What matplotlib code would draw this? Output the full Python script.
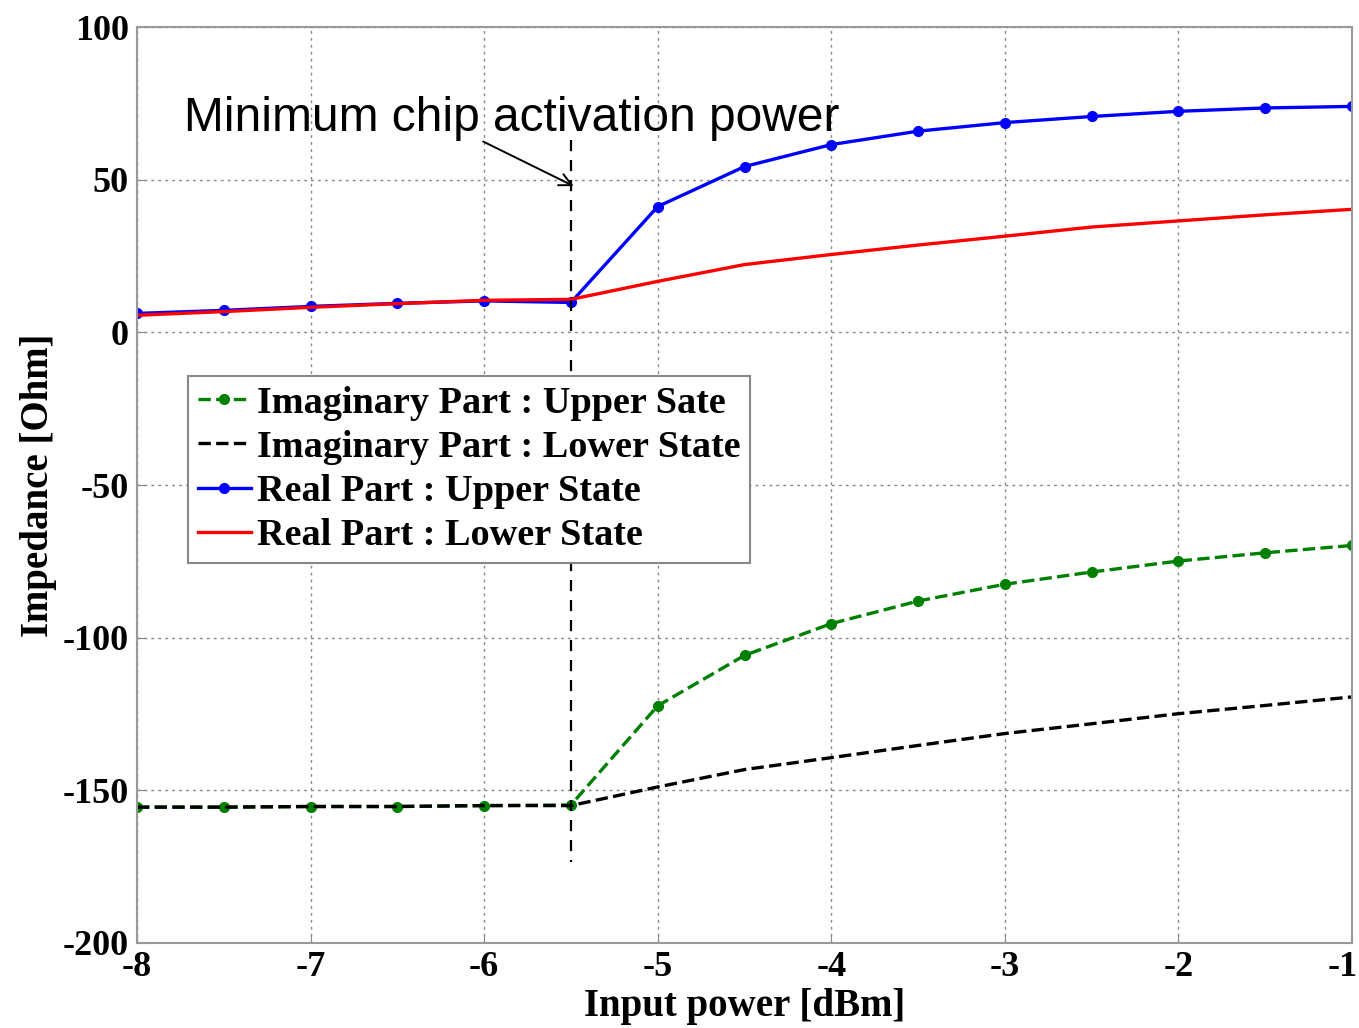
import matplotlib.pyplot as plt
from matplotlib.transforms import ScaledTranslation

plt.rcParams['axes.unicode_minus'] = False

# input power sweep [dBm]
power = [-8, -7.5, -7, -6.5, -6, -5.5, -5, -4.5, -4, -3.5, -3, -2.5, -2, -1.5, -1]

# impedance values [Ohm]
real_upper = [6.2, 7.2, 8.5, 9.5, 10.3, 9.8, 41.2, 54.3, 61.5, 65.9, 68.7, 70.7, 72.4, 73.5, 74.0]
real_lower = [5.6, 6.8, 8.2, 9.4, 10.5, 10.8, 16.7, 22.2, 25.5, 28.6, 31.5, 34.5, 36.5, 38.5, 40.3]
imag_upper = [-155.5, -155.5, -155.3, -155.3, -155.0, -154.8, -122.3, -105.8, -95.4, -88.0,
              -82.5, -78.5, -74.9, -72.2, -69.8]
imag_lower = [-155.5, -155.5, -155.3, -155.3, -155.0, -155.0, -148.9, -143.2, -139.3, -135.3,
              -131.4, -128.2, -124.9, -122.2, -119.4]

activation_power = -5.5

serif = ['Liberation Serif', 'DejaVu Serif']

fig = plt.figure(figsize=(13.59, 10.28), dpi=100)
ax = fig.add_axes([0.1008, 0.0827, 0.8941, 0.891])

ax.plot(power, imag_upper, color='#008000', linestyle='--', linewidth=2.4,
        marker='o', markersize=7, label='Imaginary Part : Upper Sate')
ax.plot(power, imag_lower, color='black', linestyle='--', linewidth=2.4,
        label='Imaginary Part : Lower State')
ax.plot(power, real_upper, color='blue', linestyle='-', linewidth=2.4,
        marker='o', markersize=7, label='Real Part : Upper State')
ax.plot(power, real_lower, color='red', linestyle='-', linewidth=2.4,
        label='Real Part : Lower State')

# activation threshold marker
ax.plot([activation_power, activation_power], [63, -173.5], color='black',
        linestyle=(0, (5, 4)), linewidth=1.6)
ax.annotate('', xy=(-5.47, 47.5), xytext=(-6.02, 62.9),
            arrowprops=dict(arrowstyle='->', color='black', lw=1.4, mutation_scale=22))
ax.text(-7.73, 70.0, 'Minimum chip activation power', fontsize=34.5,
        family=['Liberation Sans', 'DejaVu Sans'], va='center', ha='left')

ax.set_xlim(-8, -1)
ax.set_ylim(-200, 100)
ax.set_xticks([-8, -7, -6, -5, -4, -3, -2, -1])
ax.set_yticks([-200, -150, -100, -50, 0, 50, 100])
ax.grid(True, linestyle=(0, (2, 3)), color='#888888', linewidth=1.0)
ax.tick_params(direction='in', length=6, color='#888888', labelsize=26, pad=6)
for lbl in ax.get_xticklabels() + ax.get_yticklabels():
    lbl.set_family(serif)
    lbl.set_fontweight('bold')
# keep the last x tick label inside the figure
last = ax.get_xticklabels()[-1]
last.set_horizontalalignment('right')
last.set_transform(last.get_transform() + ScaledTranslation(6 / 100, 0, fig.dpi_scale_trans))
for s in ax.spines.values():
    s.set_color('#999999')
    s.set_linewidth(1.5)

ax.set_xlabel('Input power [dBm]', fontsize=28, fontweight='bold', family=serif, labelpad=3)
ax.set_ylabel('Impedance [Ohm]', fontsize=28, fontweight='bold', family=serif, labelpad=4)

leg = ax.legend(loc='upper left', bbox_to_anchor=(0.042, 0.619), borderaxespad=0,
                prop={'family': serif, 'weight': 'bold', 'size': 27.5},
                handlelength=1.4, handletextpad=0.15, labelspacing=0.24,
                borderpad=0.25, fancybox=False, framealpha=1)
leg.get_frame().set_edgecolor('#888888')
leg.get_frame().set_linewidth(1.5)

fig.savefig('out.png', dpi=100)
